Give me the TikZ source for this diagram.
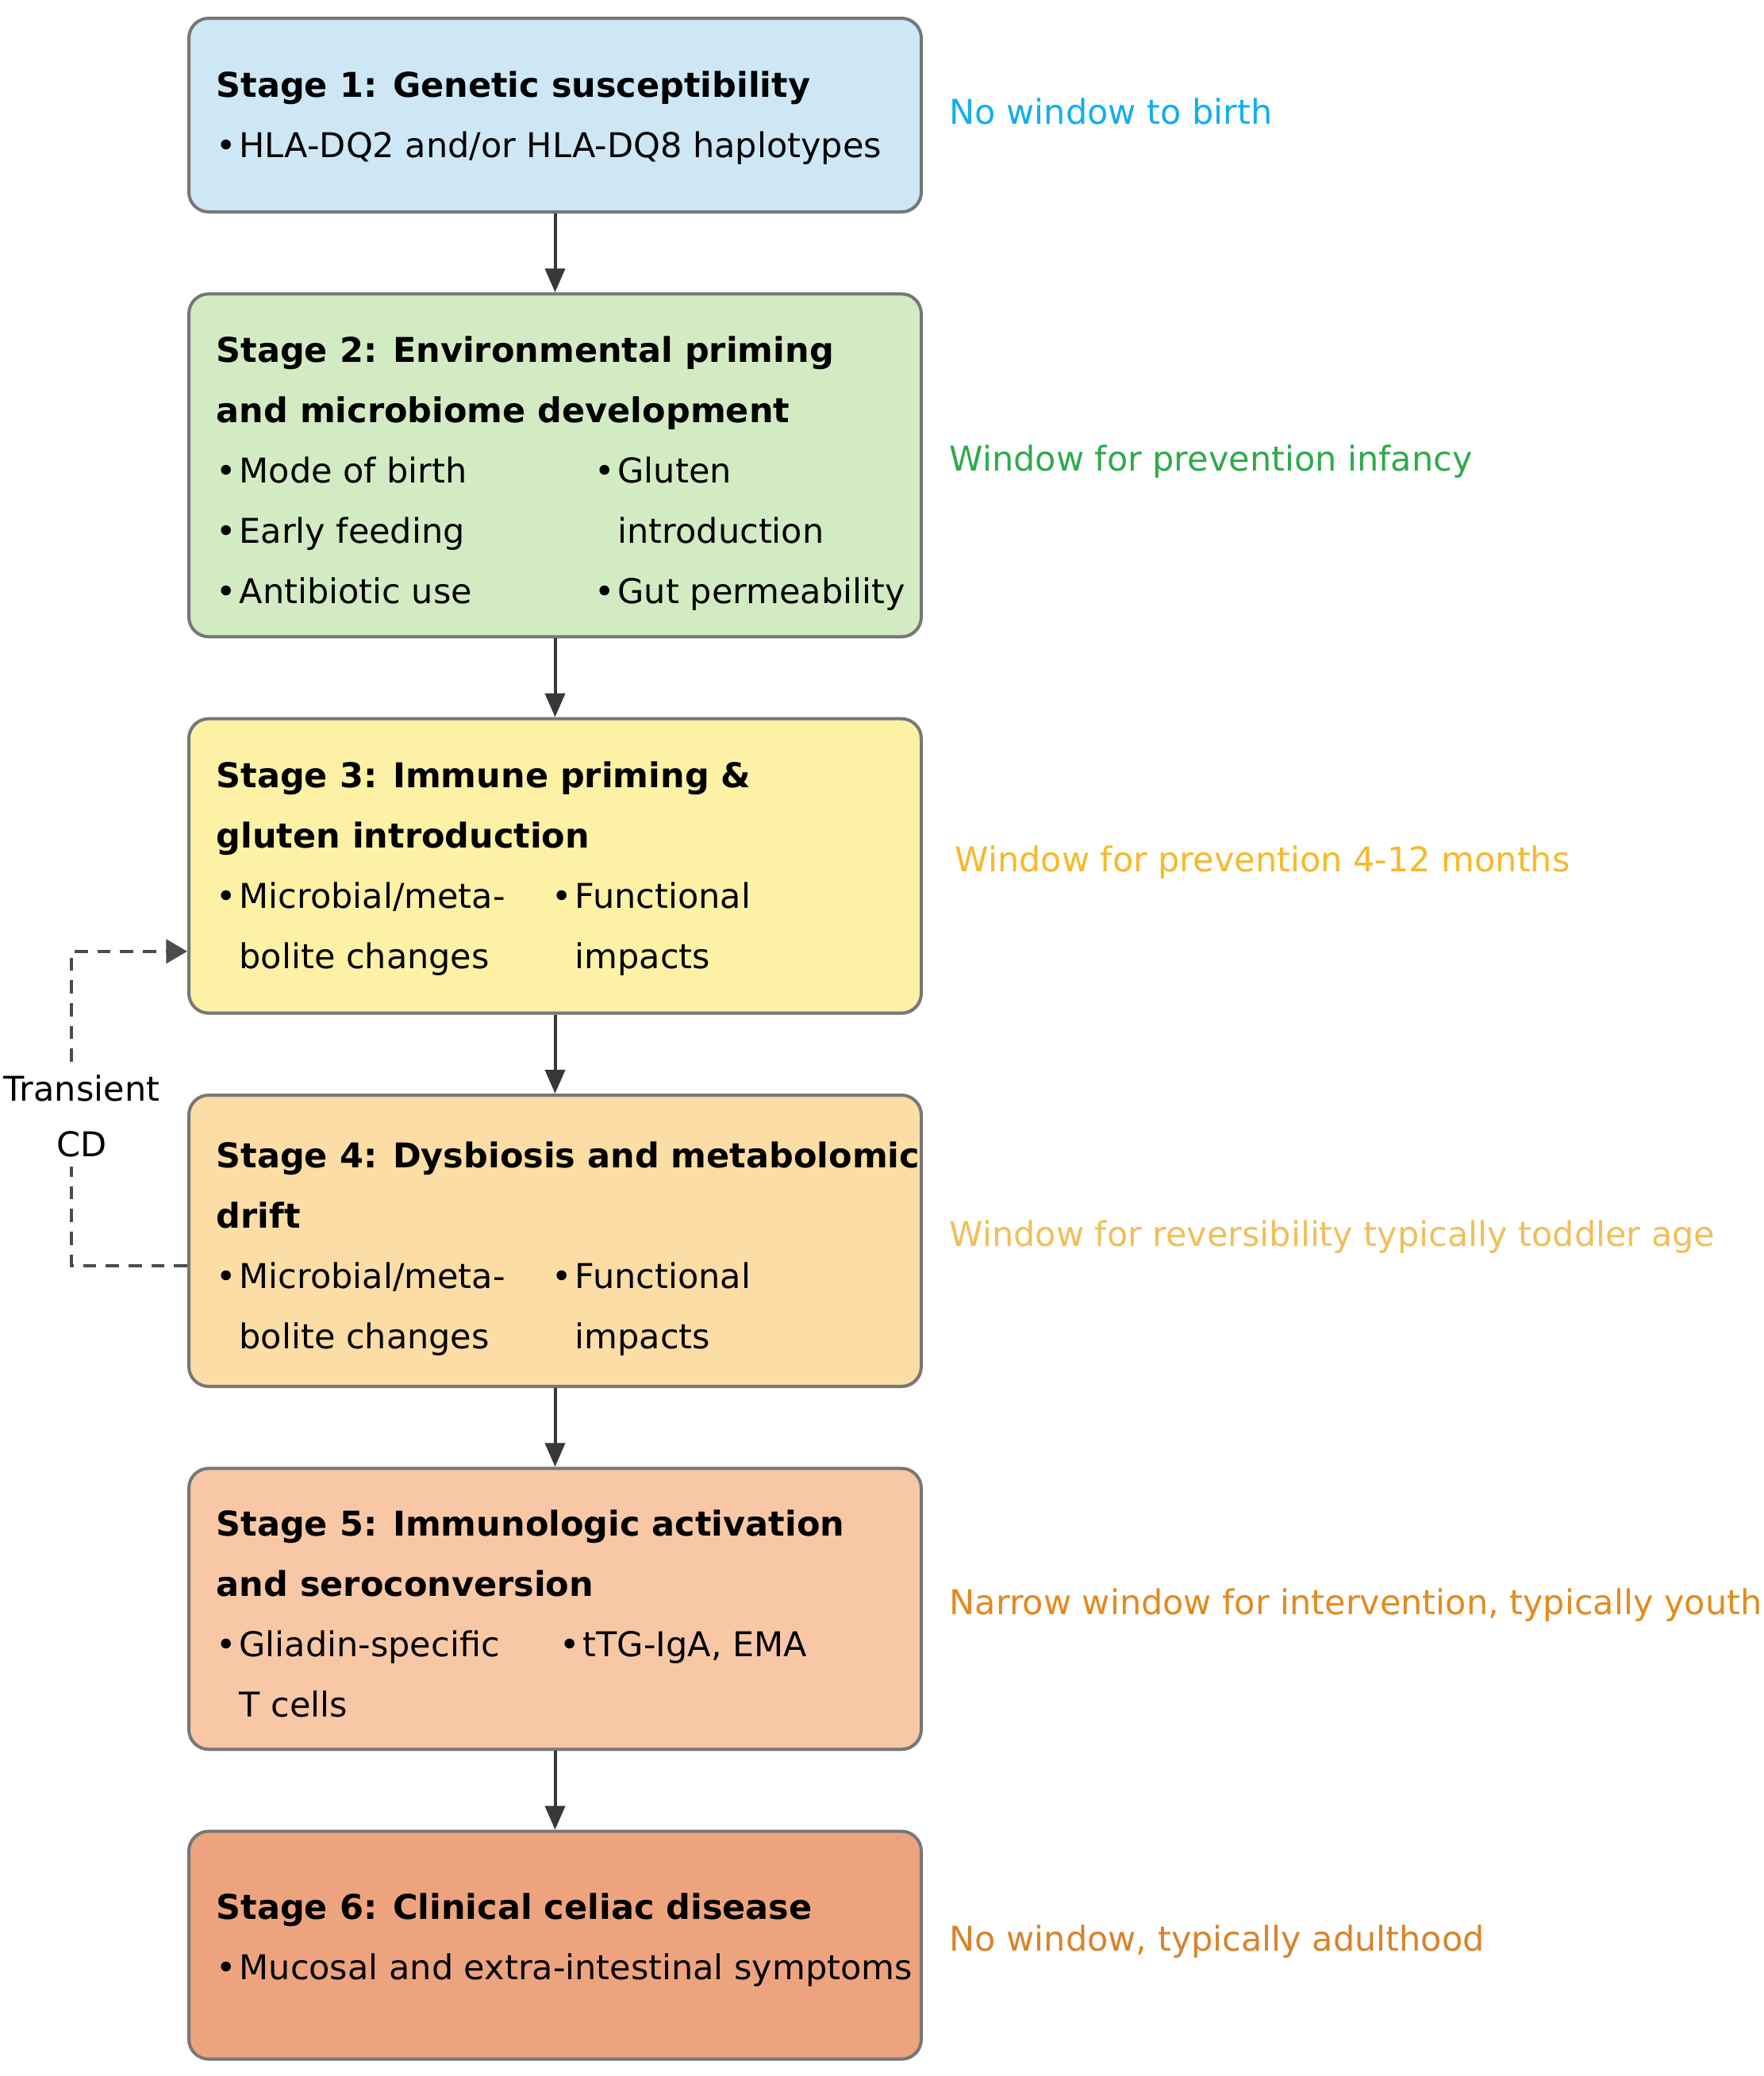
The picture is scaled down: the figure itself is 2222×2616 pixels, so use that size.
\documentclass[tikz,border=0pt]{standalone}
\usepackage{fontspec}
\setmainfont{DejaVu Sans}
\usetikzlibrary{arrows.meta, positioning, shadows}

\definecolor{boxgray}{HTML}{777777}
\definecolor{arrowgray}{HTML}{383838}
\definecolor{fillA}{HTML}{CDE7F5}
\definecolor{fillB}{HTML}{D3EBC3}
\definecolor{fillC}{HTML}{FDF1A6}
\definecolor{fillD}{HTML}{FBDDA5}
\definecolor{fillE}{HTML}{F8C8A6}
\definecolor{fillF}{HTML}{EDA47E}
\definecolor{lblA}{HTML}{11AEEF}
\definecolor{lblB}{HTML}{2EAA4A}
\definecolor{lblC}{HTML}{F6B92A}
\definecolor{lblD}{HTML}{F0BF58}
\definecolor{lblE}{HTML}{E38A1F}
\definecolor{lblF}{HTML}{D9822A}

\newcommand{\stagehead}[1]{\multicolumn{4}{@{}l@{}}{\textbf{#1}}}
\newcommand{\bul}{\makebox[8.7pt][l]{\textbullet}}

\begin{document}
\begin{tikzpicture}[x=0.3pt,y=-0.3pt,node distance=29.8pt,
	font=\fontsize{12.9pt}{22.8pt}\selectfont,
	>={Triangle[length=9pt,width=7.5pt]}]

	\tikzset{stage box/.style={draw=boxgray, line width=1.2pt,
							rounded corners=7.5pt,
							minimum width=276.9pt, inner sep=0pt,
							drop shadow={opacity=0.25, shadow xshift=0.4pt, shadow yshift=-0.7pt}},
			 stage text/.style={inner sep=0pt, anchor=west, align=left},
			 window/.style={inner sep=0pt, yshift=1.5pt},
			 flow/.style={->, draw=arrowgray, line width=1.2pt},
			 back/.style={draw=arrowgray!90, line width=1.2pt,
							dash pattern=on 5pt off 3.6pt,
							>={Triangle[length=8pt,width=9pt]}}}

	\useasboundingbox (0,0) rectangle (2222,2616);

	% stage boxes
	\node[stage box, fill=fillA, minimum height=73.2pt] (s1) at (699.5,145) {};
	\node[stage box, fill=fillB, minimum height=129.6pt, below=of s1] (s2) {};
	\node[stage box, fill=fillC, minimum height=111.3pt, below=of s2] (s3) {};
	\node[stage box, fill=fillD, minimum height=110.1pt, below=of s3] (s4) {};
	\node[stage box, fill=fillE, minimum height=106.2pt, below=of s4] (s5) {};
	\node[stage box, fill=fillF, minimum height=86.1pt, below=of s5] (s6) {};

	% box texts
	\node[stage text, right=10.8pt of s1.west] (s1t) {\begin{tabular}{@{}l@{}}
		\textbf{Stage 1: Genetic susceptibility}\\
		\bul HLA-DQ2 and/or HLA-DQ8 haplotypes
	\end{tabular}};
	\node[stage text, right=10.8pt of s2.west, yshift=-2pt] (s2t) {\begin{tabular}{@{}p{8.7pt}@{}p{134.4pt}@{}p{8.7pt}@{}l@{}}
		\stagehead{Stage 2: Environmental priming}\\
		\stagehead{and microbiome development}\\
		\textbullet & Mode of birth & \textbullet & Gluten\\
		\textbullet & Early feeding & & introduction\\
		\textbullet & Antibiotic use & \textbullet & Gut permeability
	\end{tabular}};
	\node[stage text, right=10.8pt of s3.west] (s3t) {\begin{tabular}{@{}p{8.7pt}@{}p{118.2pt}@{}p{8.7pt}@{}l@{}}
		\stagehead{Stage 3: Immune priming \&}\\
		\stagehead{gluten introduction}\\
		\textbullet & Microbial/meta- & \textbullet & Functional\\
		& bolite changes & & impacts
	\end{tabular}};
	\node[stage text, right=10.8pt of s4.west, yshift=-2pt] (s4t) {\begin{tabular}{@{}p{8.7pt}@{}p{118.2pt}@{}p{8.7pt}@{}l@{}}
		\stagehead{Stage 4: Dysbiosis and metabolomic}\\
		\stagehead{drift}\\
		\textbullet & Microbial/meta- & \textbullet & Functional\\
		& bolite changes & & impacts
	\end{tabular}};
	\node[stage text, right=10.8pt of s5.west, yshift=-2pt] (s5t) {\begin{tabular}{@{}p{8.7pt}@{}p{121.2pt}@{}p{8.7pt}@{}l@{}}
		\stagehead{Stage 5: Immunologic activation}\\
		\stagehead{and seroconversion}\\
		\textbullet & Gliadin-specific & \textbullet & tTG-IgA, EMA\\
		& T cells & &
	\end{tabular}};
	\node[stage text, right=10.8pt of s6.west, yshift=3pt] (s6t) {\begin{tabular}{@{}l@{}}
		\textbf{Stage 6: Clinical celiac disease}\\
		\bul Mucosal and extra-intestinal symptoms
	\end{tabular}};

	% windows
	\node[window, text=lblA, right=9.9pt of s1.east] (w1) {No window to birth};
	\node[window, text=lblB, right=9.9pt of s2.east] (w2) {Window for prevention infancy};
	\node[window, text=lblC, right=12pt of s3.east] (w3) {Window for prevention 4-12 months};
	\node[window, text=lblD, right=9.9pt of s4.east] (w4) {Window for reversibility typically toddler age};
	\node[window, text=lblE, right=9.9pt of s5.east] (w5) {Narrow window for intervention, typically youth};
	\node[window, text=lblF, right=9.9pt of s6.east] (w6) {No window, typically adulthood};

	\foreach \a/\b in {s1/s2, s2/s3, s3/s4, s4/s5, s5/s6}
		\draw[flow] (\a.south) -- (\b.north);

	% transient CD loop
	\node[align=center, inner sep=0pt, font=\fontsize{12.9pt}{21pt}\selectfont] (tcd) at (103,1406) {Transient\\CD};
	\coordinate (cdhigh) at (90,1338);
	\coordinate (cdlow) at (90,1470);
	\draw[back] ([yshift=-9.3pt]s4.west) -| (cdlow);
	\draw[back, ->] (cdhigh) |- ([yshift=-32.3pt]s3.west);
\end{tikzpicture}
\end{document}
